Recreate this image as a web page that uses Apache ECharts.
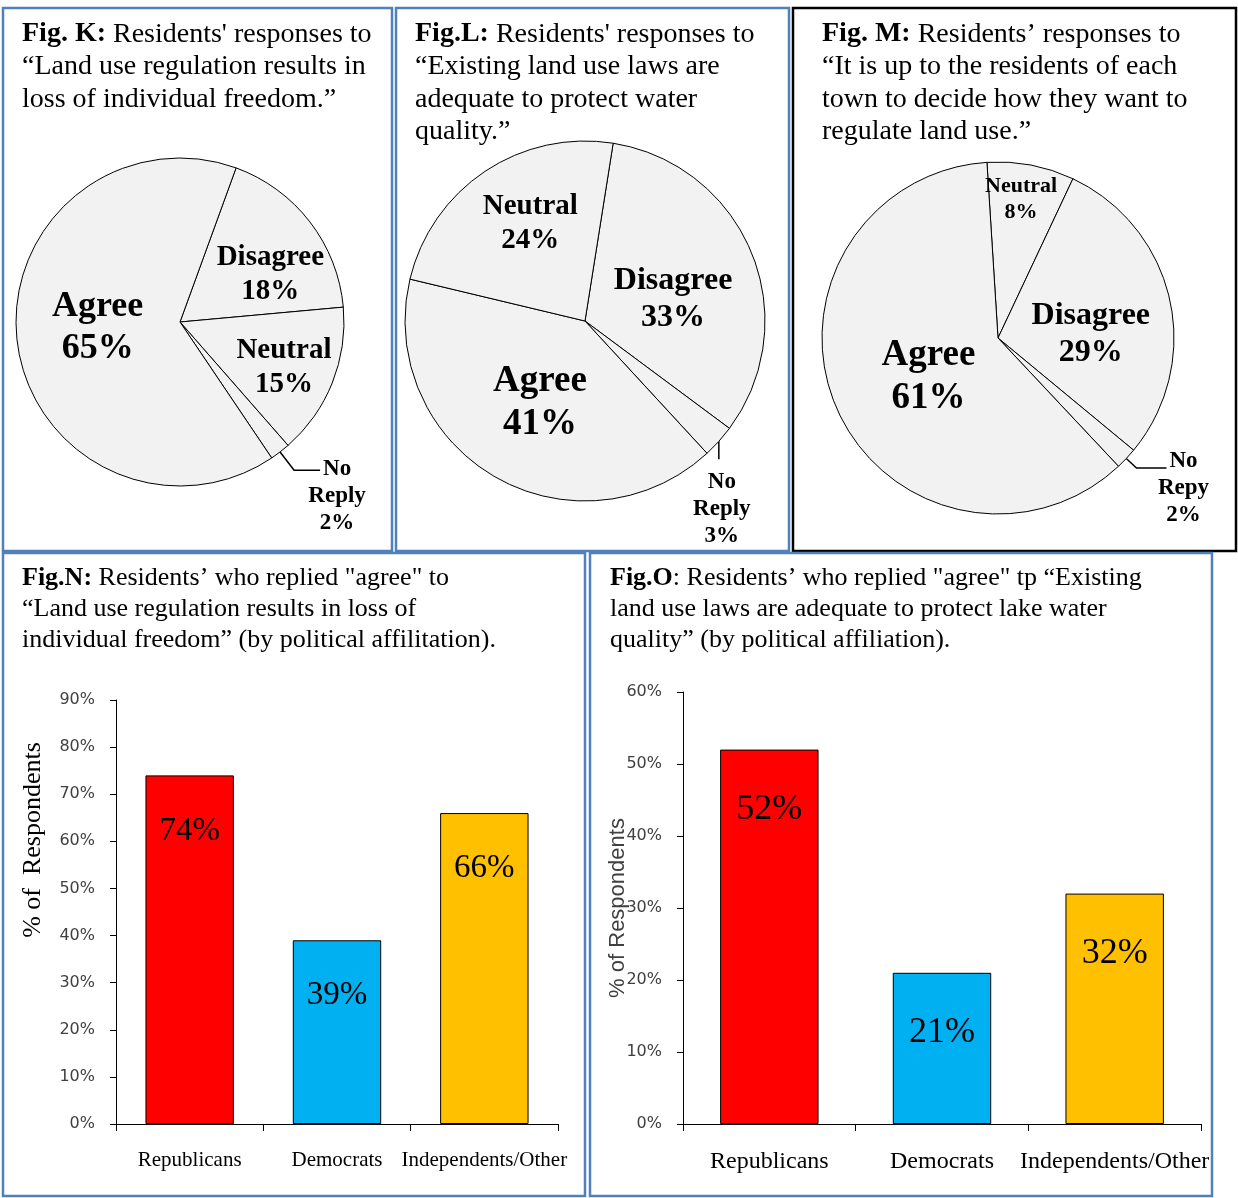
<!DOCTYPE html>
<html>
<head>
<meta charset="utf-8">
<script src="https://cdn.jsdelivr.net/npm/echarts@6/dist/echarts.min.js"></script>
<style>
html, body { margin: 0; padding: 0; background: #fff; }
#main { width: 1238px; height: 1198px; }
</style>
</head>
<body>
<div id="main"></div>
<script>
// 数据
var kNames = ['Disagree', 'Neutral', 'No Reply', 'Agree'];
var kValues = [18, 15, 2, 65];
var lNames = ['Disagree', 'No Reply', 'Agree', 'Neutral'];
var lValues = [33, 3, 41, 24];
var mNames = ['Neutral', 'Disagree', 'No Repy', 'Agree'];
var mValues = [8, 29, 2, 61];
var parties = ['Republicans', 'Democrats', 'Independents/Other'];
var nValues = [74, 39, 66];
var oValues = [52, 21, 32];

// 标签样式 (字号, 偏移)
var kSize = [29, 29, 23, 36];
var kShift = [[23, 4], [25, 14], null, [2, -5]];
var lSize = [32, 23, 37, 29];
var lShift = [[2, 13], null, [2, 2], [-3, -20]];
var mSize = [22, 32, 23, 37];
var mShift = [[6, -49], [4, 16], null, [14, 3]];

var serif = 'Liberation Serif';
var blue = '#4f81bd';

function pieData(names, values, sizes) {
    return names.map(function (n, i) {
        var item = {
            name: n,
            value: values[i],
            label: { fontSize: sizes[i], lineHeight: Math.round(sizes[i] * 1.17) }
        };
        if (n.indexOf('No ') === 0) {
            item.label.position = 'outside';
            item.labelLine = { show: true };
        }
        return item;
    });
}

// 饼图标签布局
function pieLayout(shift, tail) {
    return function (p) {
        var s = shift[p.dataIndex];
        if (s) {
            return { dx: s[0], dy: s[1] };
        }
        var a = p.labelLinePoints;
        if (!a) return {};
        if (tail === 'down') {
            var x0 = a[0][0], y0 = a[0][1];
            return {
                x: x0 + 3, y: y0 + 27,
                align: 'center', verticalAlign: 'top',
                labelLinePoints: [[x0, y0], [x0, y0 + 18], [x0, y0 + 18]]
            };
        }
        var end = a[2];
        return {
            x: end[0] + tail[0], y: end[1] + tail[1],
            align: 'center', verticalAlign: 'top',
            labelLinePoints: [a[0].slice(), a[1].slice(), a[2].slice()]
        };
    };
}

function pieSeries(center, r, start, data, shift, tail, len, len2) {
    return {
        type: 'pie',
        center: center,
        radius: r,
        startAngle: start,
        clockwise: true,
        avoidLabelOverlap: false,
        silent: true,
        itemStyle: { color: '#f2f2f2', borderColor: '#000', borderWidth: 1 },
        label: {
            position: 'inside',
            color: '#000',
            fontFamily: serif,
            fontWeight: 'bold',
            formatter: function (p) {
                return p.name.replace(' ', '\n') + '\n' + p.value + '%';
            }
        },
        labelLine: {
            show: false,
            length: len,
            length2: len2,
            lineStyle: { color: '#000', width: 1.5 }
        },
        labelLayout: pieLayout(shift, tail),
        data: data
    };
}

function titleOf(left, top, text, size, lh) {
    return {
        left: left,
        top: top,
        padding: 0,
        text: text,
        textStyle: {
            fontFamily: serif,
            fontSize: size,
            fontWeight: 'normal',
            color: '#000',
            lineHeight: lh,
            rich: {
                b: { fontFamily: serif, fontSize: size, fontWeight: 'bold', color: '#000', lineHeight: lh }
            }
        }
    };
}

function frame(x, y, w, h, color) {
    return {
        type: 'rect',
        shape: { x: x, y: y, width: w, height: h },
        style: { fill: 'none', stroke: color, lineWidth: 2.5 },
        silent: true
    };
}

function catAxis(idx, size) {
    return {
        gridIndex: idx,
        type: 'category',
        data: parties,
        axisLine: { lineStyle: { color: '#000', width: 1 } },
        axisTick: { show: true, length: 7, lineStyle: { color: '#000' } },
        axisLabel: { interval: 0, margin: 26, fontFamily: serif, fontSize: size, color: '#000' }
    };
}

function valAxis(idx, max, name, nameGap, nameStyle) {
    return {
        gridIndex: idx,
        type: 'value',
        min: 0,
        max: max,
        interval: 10,
        name: name,
        nameLocation: 'middle',
        nameGap: nameGap,
        nameMoveOverlap: false,
        nameTextStyle: nameStyle,
        axisLine: { show: true, lineStyle: { color: '#000', width: 1 } },
        axisTick: { show: true, length: 6, lineStyle: { color: '#000' } },
        splitLine: { show: false },
        axisLabel: {
            formatter: '{value}%',
            margin: 21,
            fontFamily: 'DejaVu Sans',
            fontSize: 16,
            color: '#404040'
        }
    };
}

function barSeries(idx, values, width, distance, size) {
    return {
        type: 'bar',
        xAxisIndex: idx,
        yAxisIndex: idx,
        colorBy: 'data',
        barWidth: width,
        silent: true,
        itemStyle: { borderColor: '#000', borderWidth: 1 },
        label: {
            show: true,
            position: 'insideTop',
            distance: distance,
            formatter: '{c}%',
            fontFamily: serif,
            fontSize: size,
            color: '#000'
        },
        data: values
    };
}

var chart = echarts.init(document.getElementById('main'));
option = {
    animation: false,
    backgroundColor: '#fff',
    color: ['#ff0000', '#00b0f0', '#ffc000'],
    graphic: [
        frame(3, 8, 389, 543, blue),
        frame(396, 8, 393, 543, blue),
        frame(793, 8, 443, 543, '#000'),
        frame(3, 553, 582, 643, blue),
        frame(590, 553, 622, 643, blue)
    ],
    title: [
        titleOf(22, 18, '{b|Fig. K:} Residents\' responses to\n\u201cLand use regulation results in\nloss of individual freedom.\u201d', 28, 32.5),
        titleOf(415, 18, '{b|Fig.L:} Residents\' responses to\n\u201cExisting land use laws are\nadequate to protect water\nquality.\u201d', 28, 32.5),
        titleOf(822, 18, '{b|Fig. M:} Residents\u2019 responses to\n\u201cIt is up to the residents of each\ntown to decide how they want to\nregulate land use.\u201d', 28, 32.5),
        titleOf(22, 563, '{b|Fig.N:} Residents\u2019 who replied "agree" to\n\u201cLand use regulation results in loss of\nindividual freedom\u201d (by political affilitation).', 26, 31),
        titleOf(610, 563, '{b|Fig.O}: Residents\u2019 who replied "agree" tp \u201cExisting\nland use laws are adequate to protect lake water\nquality\u201d (by political affiliation).', 26, 31)
    ],
    grid: [
        { left: 116, top: 700, width: 442, height: 424 },
        { left: 683, top: 692, width: 518, height: 432 }
    ],
    xAxis: [catAxis(0, 21), catAxis(1, 24)],
    yAxis: [
        valAxis(0, 90, '% of  Respondents', 70,
            { fontFamily: serif, fontSize: 26, color: '#000', padding: [0, 0, 0, 144] }),
        valAxis(1, 60, '% of Respondents', 54,
            { fontFamily: 'Liberation Sans', fontSize: 22, color: '#404040' })
    ],
    series: [
        pieSeries([180, 322], 164, 70, pieData(kNames, kValues, kSize), kShift, [17, -15], 23, 26),
        pieSeries([585, 321], 180, 81, pieData(lNames, lValues, lSize), lShift, 'down', 10, 10),
        pieSeries([998, 338], 176, 93.6, pieData(mNames, mValues, mSize), mShift, [17, -21], 14, 30),
        barSeries(0, nValues, '60%', 39, 33),
        barSeries(1, oValues, '57%', 42, 36)
    ]
};
chart.setOption(option);
</script>
</body>
</html>
